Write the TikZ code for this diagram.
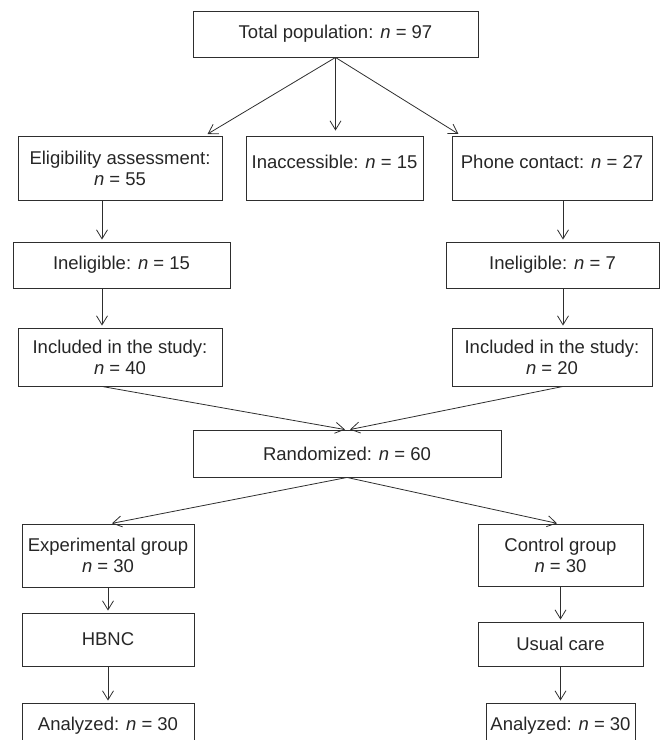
\documentclass[tikz,border=0pt]{standalone}
\usepackage{fontspec}
\setmainfont{Liberation Sans}
\usetikzlibrary{arrows.meta, calc}
\colorlet{linecolor}{black!82}

\begin{document}
\begin{tikzpicture}[x=1pt, y=-1pt, >={Straight Barb[length=9pt, width=11pt]},
    box/.style={draw=linecolor, line width=0.9pt, inner sep=0pt, align=center,
      font=\fontsize{18.5pt}{21pt}\selectfont, text=black!85},
    link/.style={->, draw=linecolor, line width=0.8pt}]

  \useasboundingbox (0,0) rectangle (661,740);

  % top row
  \node[box, minimum width=285pt, minimum height=46pt] (total) at (335.5,34)
    {Total population: \textit{n} = 97};
  \node[box, minimum width=204pt, minimum height=64pt] (elig) at (120,168)
    {Eligibility assessment:\\ \textit{n} = 55};
  \node[box, minimum width=177pt, minimum height=64pt, text depth=13pt] (inacc) at (334.5,168)
    {Inaccessible: \textit{n} = 15};
  \node[box, minimum width=200pt, minimum height=64pt, text depth=13pt] (phone) at (552,168)
    {Phone contact: \textit{n} = 27};

  % two branches
  \node[box, minimum width=217pt, minimum height=46pt] (inel1) at (121.5,265)
    {Ineligible: \textit{n} = 15};
  \node[box, minimum width=213pt, minimum height=46pt] (inel2) at (552.5,265)
    {Ineligible: \textit{n} = 7};
  \node[box, minimum width=204pt, minimum height=58pt] (incl1) at (120,357)
    {Included in the study:\\ \textit{n} = 40};
  \node[box, minimum width=200pt, minimum height=58pt] (incl2) at (552,357)
    {Included in the study:\\ \textit{n} = 20};

  \node[box, minimum width=308pt, minimum height=47pt] (rand) at (347,453.5)
    {Randomized: \textit{n} = 60};

  % groups
  \node[box, minimum width=172pt, minimum height=63pt] (exper) at (108,555.5)
    {Experimental group\\ \textit{n} = 30};
  \node[box, minimum width=165pt, minimum height=62pt] (ctrl) at (560.5,555)
    {Control group\\ \textit{n} = 30};
  \node[box, minimum width=172pt, minimum height=53pt] (hbnc) at (108,639.5) {HBNC};
  \node[box, minimum width=165pt, minimum height=44pt] (usual) at (560.5,644) {Usual care};
  \node[box, minimum width=172pt, minimum height=46pt] (anal1) at (108,726)
    {Analyzed: \textit{n} = 30};
  \node[box, minimum width=149pt, minimum height=46pt] (anal2) at (560.5,726)
    {Analyzed: \textit{n} = 30};

  \coordinate (colL) at (102,0);
  \coordinate (colR) at (563,0);

  \draw[link, shorten >=3pt] (total.south) -- ([xshift=85pt]elig.north);
  \draw[link, shorten >=5pt] (total.south) -- (total.south |- inacc.north);
  \draw[link, shorten >=3pt] (total.south) -- ([xshift=-91pt]phone.north);

  \draw[link, shorten >=2pt] (elig.south -| colL) -- (inel1.north -| colL);
  \draw[link, shorten >=2pt] (inel1.south -| colL) -- (incl1.north -| colL);
  \draw[link, shorten >=2pt] (phone.south -| colR) -- (inel2.north -| colR);
  \draw[link, shorten >=2pt] (inel2.south -| colR) -- (incl2.north -| colR);

  \draw[link] (incl1.south -| colL) -- ([xshift=-2pt]rand.north);
  \draw[link] (incl2.south -| colR) -- ([xshift=3pt]rand.north);

  \draw[link, shorten >=1pt] (rand.south) -- ([xshift=3pt]exper.north);
  \draw[link, shorten >=1pt] (rand.south) -- ([xshift=-2.5pt]ctrl.north);

  \foreach \a/\b in {exper/hbnc, hbnc/anal1, ctrl/usual, usual/anal2} {
    \draw[link, shorten >=2pt] (\a.south) -- (\b.north);
  }

\end{tikzpicture}
\end{document}
